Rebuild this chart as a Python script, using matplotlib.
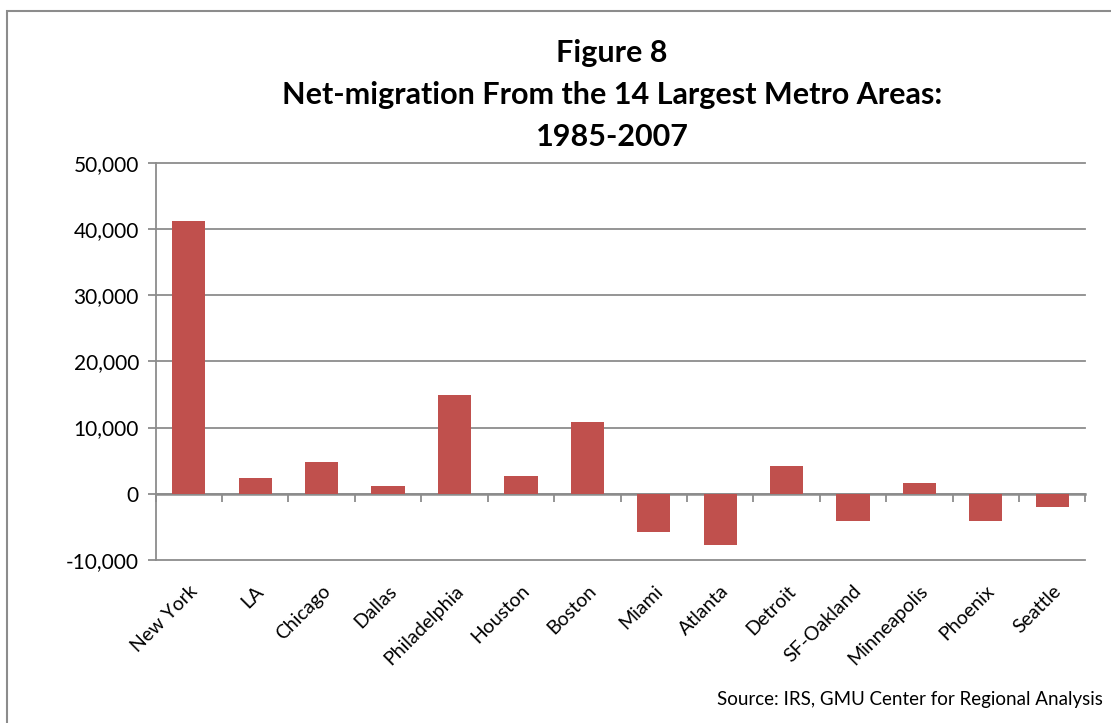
import matplotlib
matplotlib.use('Agg')
import matplotlib.pyplot as plt
from matplotlib.patches import Rectangle
from matplotlib.ticker import FuncFormatter
import numpy as np

# Chart data
metros = ['New York', 'LA', 'Chicago', 'Dallas', 'Philadelphia', 'Houston', 'Boston',
          'Miami', 'Atlanta', 'Detroit', 'SF-Oakland', 'Minneapolis', 'Phoenix', 'Seattle']
net_migration = [41150, 2400, 4800, 1200, 14950, 2700, 10850,
                 -5800, -7750, 4200, -4050, 1650, -4050, -1950]
y_ticks = [-10000, 0, 10000, 20000, 30000, 40000, 50000]

title_lines = ['Figure 8', 'Net-migration From the 14 Largest Metro Areas:', '1985-2007']
source_text = 'Source: IRS, GMU Center for Regional Analysis'

plt.rcParams['font.family'] = ['Lato', 'DejaVu Sans']

bar_color = '#C0504D'
grid_color = '#8C8C8C'

fig = plt.figure(figsize=(11.11, 7.23), dpi=100)
ax = fig.add_axes([0.1401, 0.2255, 0.977 - 0.1401, 0.775 - 0.2255])

x = np.arange(len(metros))
ax.bar(x, net_migration, width=0.5, color=bar_color, zorder=3)

ax.set_xlim(-0.5, len(metros) - 0.5)
ax.set_ylim(y_ticks[0], y_ticks[-1])
ax.set_yticks(y_ticks)
ax.yaxis.set_major_formatter(FuncFormatter(lambda v, p: f'{int(v):,}'))
ax.grid(axis='y', color=grid_color, linewidth=1.3, zorder=0)
for gl in ax.get_ygridlines():
    gl.set_clip_on(False)

ax.set_xticks(x)
ax.set_xticklabels(metros, rotation=45, ha='right', rotation_mode='anchor', fontsize=14)
ax.tick_params(axis='x', length=0, pad=16)
ax.tick_params(axis='y', length=6, color=grid_color, width=1.3, labelsize=15, pad=6)

for side in ['top', 'right', 'bottom']:
    ax.spines[side].set_visible(False)
ax.spines['left'].set_color(grid_color)
ax.spines['left'].set_linewidth(1.3)

# category axis crossing at zero, with tick marks between categories
zero_frac = (0 - y_ticks[0]) / (y_ticks[-1] - y_ticks[0])
sec = ax.secondary_xaxis(zero_frac)
sec.set_xticks(np.arange(len(metros) + 1) - 0.5)
sec.set_xticklabels([])
sec.tick_params(length=6, width=1.3, color=grid_color, direction='out')
sec.spines['bottom'].set_color(grid_color)
sec.spines['bottom'].set_linewidth(1.8)

# title
for i, line in enumerate(title_lines):
    fig.text(0.551, 1 - (53 + 42 * i) / 723, line, ha='center', va='center',
             fontsize=22, fontweight='bold')

fig.text(1103 / 1111, 1 - 700 / 723, source_text, ha='right', va='center', fontsize=13.5)

# chart border
fig.patches.append(Rectangle((7 / 1111, -0.05), 1.1, 1 - 11 / 723 + 0.05,
                             transform=fig.transFigure, fill=False,
                             edgecolor='#8C8C8C', linewidth=1.5))

fig.savefig('out.png', dpi=100)
